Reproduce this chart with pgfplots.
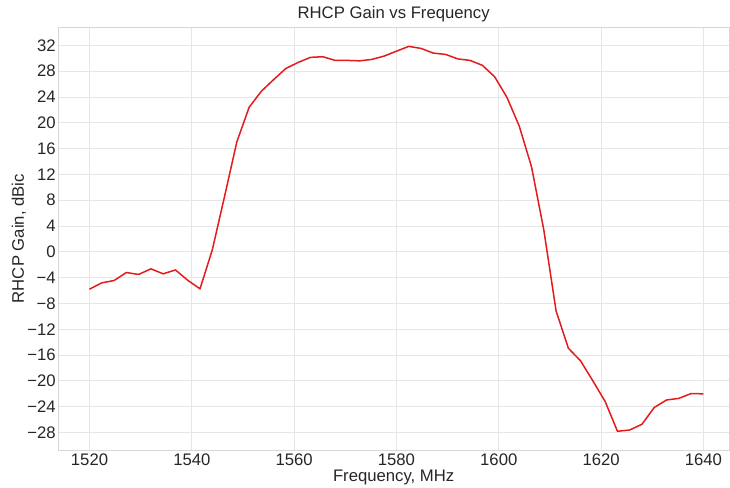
\documentclass[border=0pt]{standalone}
\usepackage{pgfplots}
\pgfplotsset{compat=1.18}
\usepackage{fontspec}
\setmainfont{Liberation Sans}
\definecolor{linered}{RGB}{228,26,28}
\definecolor{txt}{RGB}{38,38,38}
\definecolor{gridc}{RGB}{230,230,230}
\definecolor{spinec}{RGB}{215,215,215}
\begin{document}
\begin{tikzpicture}
\begin{axis}[
  scale only axis,
  width=670.7bp, height=422.7bp,
  xmin=1513.9, xmax=1645.0,
  ymin=-30.7, ymax=34.8,
  xtick={1520,1540,...,1640},
  ytick={-28,-24,...,32},
  yticklabels={−28,−24,−20,−16,−12,−8,−4,0,4,8,12,16,20,24,28,32},
  xticklabels={1520,1540,1560,1580,1600,1620,1640},
  major tick length=0pt,
  grid=major,
  major grid style={draw=gridc, line width=0.9bp},
  axis line style={draw=spinec, line width=0.9bp},
  tick label style={font=\fontsize{16.7bp}{20bp}\selectfont, text=txt},
  yticklabel style={anchor=east, inner sep=0pt, xshift=-2.5bp},
  xticklabel style={anchor=north, inner sep=0pt, yshift=-3.5bp},
  label style={font=\fontsize{16.7bp}{20bp}\selectfont, text=txt},
  xlabel={Frequency, MHz},
  ylabel={RHCP Gain, dBic},
  xlabel style={at={(axis description cs:0.5,0)}, anchor=base, yshift=-31.7bp, inner sep=0pt},
  ylabel style={at={(axis description cs:0,0.5)}, anchor=base, yshift=34.3bp, inner sep=0pt},
  title={RHCP Gain vs Frequency},
  title style={font=\fontsize{16.7bp}{20bp}\selectfont, text=txt, at={(axis description cs:0.5,1)}, anchor=base, yshift=3.3bp, inner sep=0pt},
  clip=false,
]
\addplot[linered, line width=1.5bp, line join=round] coordinates {
(1520.0,-5.78) (1522.4,-4.80) (1524.8,-4.44) (1527.2,-3.20) (1529.6,-3.50)
(1532.0,-2.63) (1534.4,-3.40) (1536.8,-2.80) (1539.2,-4.40) (1541.6,-5.73)
(1544.0,0.30) (1546.4,8.60) (1548.8,17.05) (1551.2,22.40) (1553.6,24.90)
(1556.0,26.70) (1558.4,28.43) (1560.8,29.36) (1563.2,30.14) (1565.6,30.24)
(1568.0,29.67) (1570.4,29.67) (1572.8,29.60) (1575.2,29.83) (1577.6,30.34)
(1580.0,31.10) (1582.4,31.84) (1584.8,31.53) (1587.2,30.80) (1589.6,30.60)
(1592.0,29.90) (1594.4,29.67) (1596.8,28.90) (1599.2,27.13) (1601.6,23.94)
(1604.0,19.49) (1606.4,13.18) (1608.8,3.40) (1611.2,-9.15) (1613.6,-14.93)
(1616.0,-16.90) (1618.4,-20.00) (1620.8,-23.20) (1623.2,-27.80) (1625.6,-27.60)
(1628.0,-26.70) (1630.4,-24.10) (1632.8,-22.95) (1635.2,-22.70) (1637.6,-21.95)
(1640.0,-22.00)
};
\end{axis}
\pgfresetboundingbox
\useasboundingbox (-58.3bp,-38bp) rectangle (671.7bp,450bp);
\end{tikzpicture}
\end{document}
